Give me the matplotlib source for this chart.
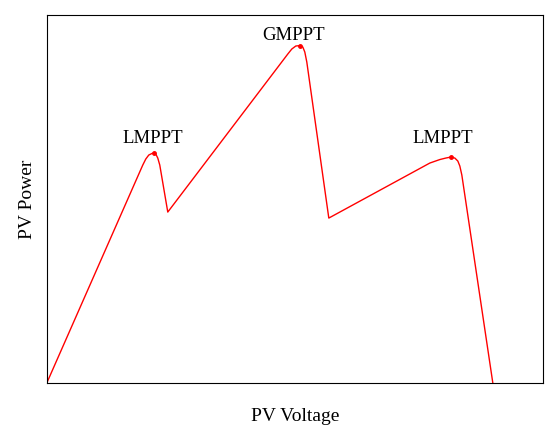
import matplotlib.pyplot as plt

# PV P-V curve under partial shading (arbitrary units)
voltage = [0, 96, 99, 102, 105, 107, 109, 111, 113, 121,
           241, 245, 249, 253.5, 256, 258, 260, 282,
           383, 393, 399, 404, 408, 411, 413, 415, 446]
power = [0, 218, 224, 228, 229.5, 230, 229, 225, 218, 171,
         329, 334, 337, 337.5, 336, 331, 321, 165,
         220, 223.5, 225, 226, 225, 222, 217, 208, 0]

peak_v = [107, 253.5, 404]
peak_p = [230, 337.5, 226]
peak_labels = ['LMPPT', 'GMPPT', 'LMPPT']
label_v = [106, 246.5, 396]
label_p = [240, 343, 240]

plt.rcParams['font.family'] = ['Liberation Serif', 'DejaVu Serif']

fig, ax = plt.subplots(figsize=(5.5, 4.29), dpi=100)
fig.subplots_adjust(left=0.085, right=0.987, top=0.965, bottom=0.107)

ax.plot(voltage, power, color='red', lw=1.0)
ax.plot(peak_v, peak_p, 'o', color='red', ms=2.5)
for v, p, lab in zip(label_v, label_p, peak_labels):
    ax.text(v, p, lab, ha='center', va='baseline', fontsize=13.5)

ax.set_xlim(0, 496)
ax.set_ylim(0, 368)
ax.set_xticks([])
ax.set_yticks([])
ax.set_xlabel('PV Voltage', fontsize=14, labelpad=18)
ax.set_ylabel('PV Power', fontsize=14, labelpad=8)

fig.savefig('out.png')
